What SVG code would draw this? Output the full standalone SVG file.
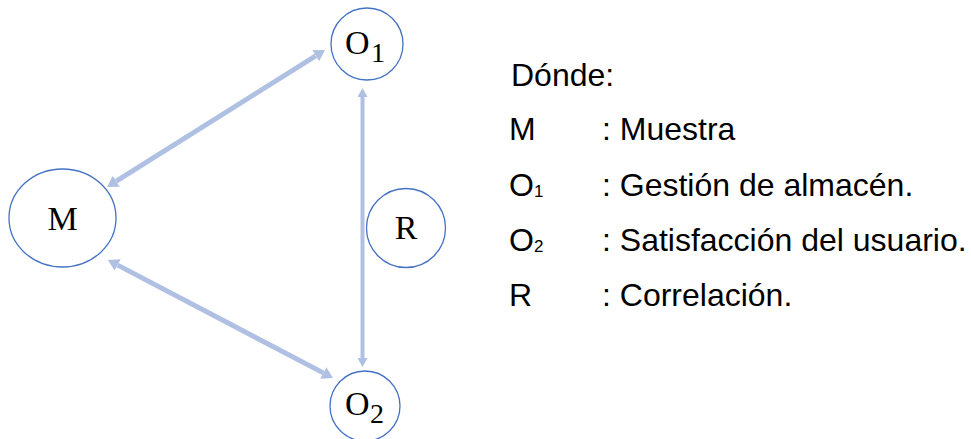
<svg xmlns="http://www.w3.org/2000/svg" width="971" height="439" viewBox="0 0 971 439">
<style>
.node{fill:#ffffff;stroke:#4472C4;stroke-width:1.3}
.nt{font-family:"Liberation Serif","Times New Roman",serif;fill:#000;font-size:34px}
.conn{stroke:#AFC0E3;fill:none}
.leg{font-family:"Liberation Sans",Arial,sans-serif;font-size:32px;fill:#000}
</style>
<defs>
<marker id="ah" markerUnits="userSpaceOnUse" markerWidth="11" markerHeight="13" refX="0" refY="6.5" orient="auto-start-reverse" viewBox="0 0 11 13">
<path d="M0,0 L11,6.5 L0,13 z" fill="#AFC0E3"/>
</marker>
<marker id="ahs" markerUnits="userSpaceOnUse" markerWidth="9" markerHeight="10" refX="0" refY="5" orient="auto-start-reverse" viewBox="0 0 9 10">
<path d="M0,0 L9,5 L0,10 z" fill="#AFC0E3"/>
</marker>
</defs>
<g id="connectors">
<line class="conn" x1="116.3" y1="181.2" x2="315.7" y2="55.8" stroke-width="5" marker-start="url(#ah)" marker-end="url(#ah)"/>
<line class="conn" x1="117.7" y1="265.1" x2="323.3" y2="372.9" stroke-width="5" marker-start="url(#ah)" marker-end="url(#ah)"/>
<line class="conn" x1="362.5" y1="97" x2="362.5" y2="358" stroke-width="4" marker-start="url(#ahs)" marker-end="url(#ahs)"/>
</g>
<g id="node-M">
<ellipse class="node" cx="62.5" cy="218" rx="53.5" ry="49"/>
<text class="nt" x="62.5" y="230" text-anchor="middle" font-size="38">M</text>
</g>
<g id="node-O1">
<circle class="node" cx="367" cy="44" r="36"/>
<text class="nt" x="345" y="54" font-size="34">O<tspan x="371" y="62" font-size="28">1</tspan></text>
</g>
<g id="node-R">
<circle class="node" cx="406" cy="228" r="39.5"/>
<text class="nt" x="406" y="239" text-anchor="middle" font-size="38">R</text>
</g>
<g id="node-O2">
<circle class="node" cx="365" cy="406" r="35"/>
<text class="nt" x="345" y="415" font-size="34">O<tspan x="370" y="423" font-size="28">2</tspan></text>
</g>
<g id="legend">
<text class="leg" x="511" y="86">Dónde:</text>
<text class="leg" x="509" y="140">M</text>
<text class="leg" x="602" y="140">: Muestra</text>
<text class="leg" x="509" y="196">O<tspan font-size="17" dy="1">1</tspan></text>
<text class="leg" x="602" y="196">: Gestión de almacén.</text>
<text class="leg" x="509" y="251">O<tspan font-size="17" dy="1">2</tspan></text>
<text class="leg" x="602" y="251">: Satisfacción del usuario.</text>
<text class="leg" x="509" y="306">R</text>
<text class="leg" x="602" y="306">: Correlación.</text>
</g>
</svg>
